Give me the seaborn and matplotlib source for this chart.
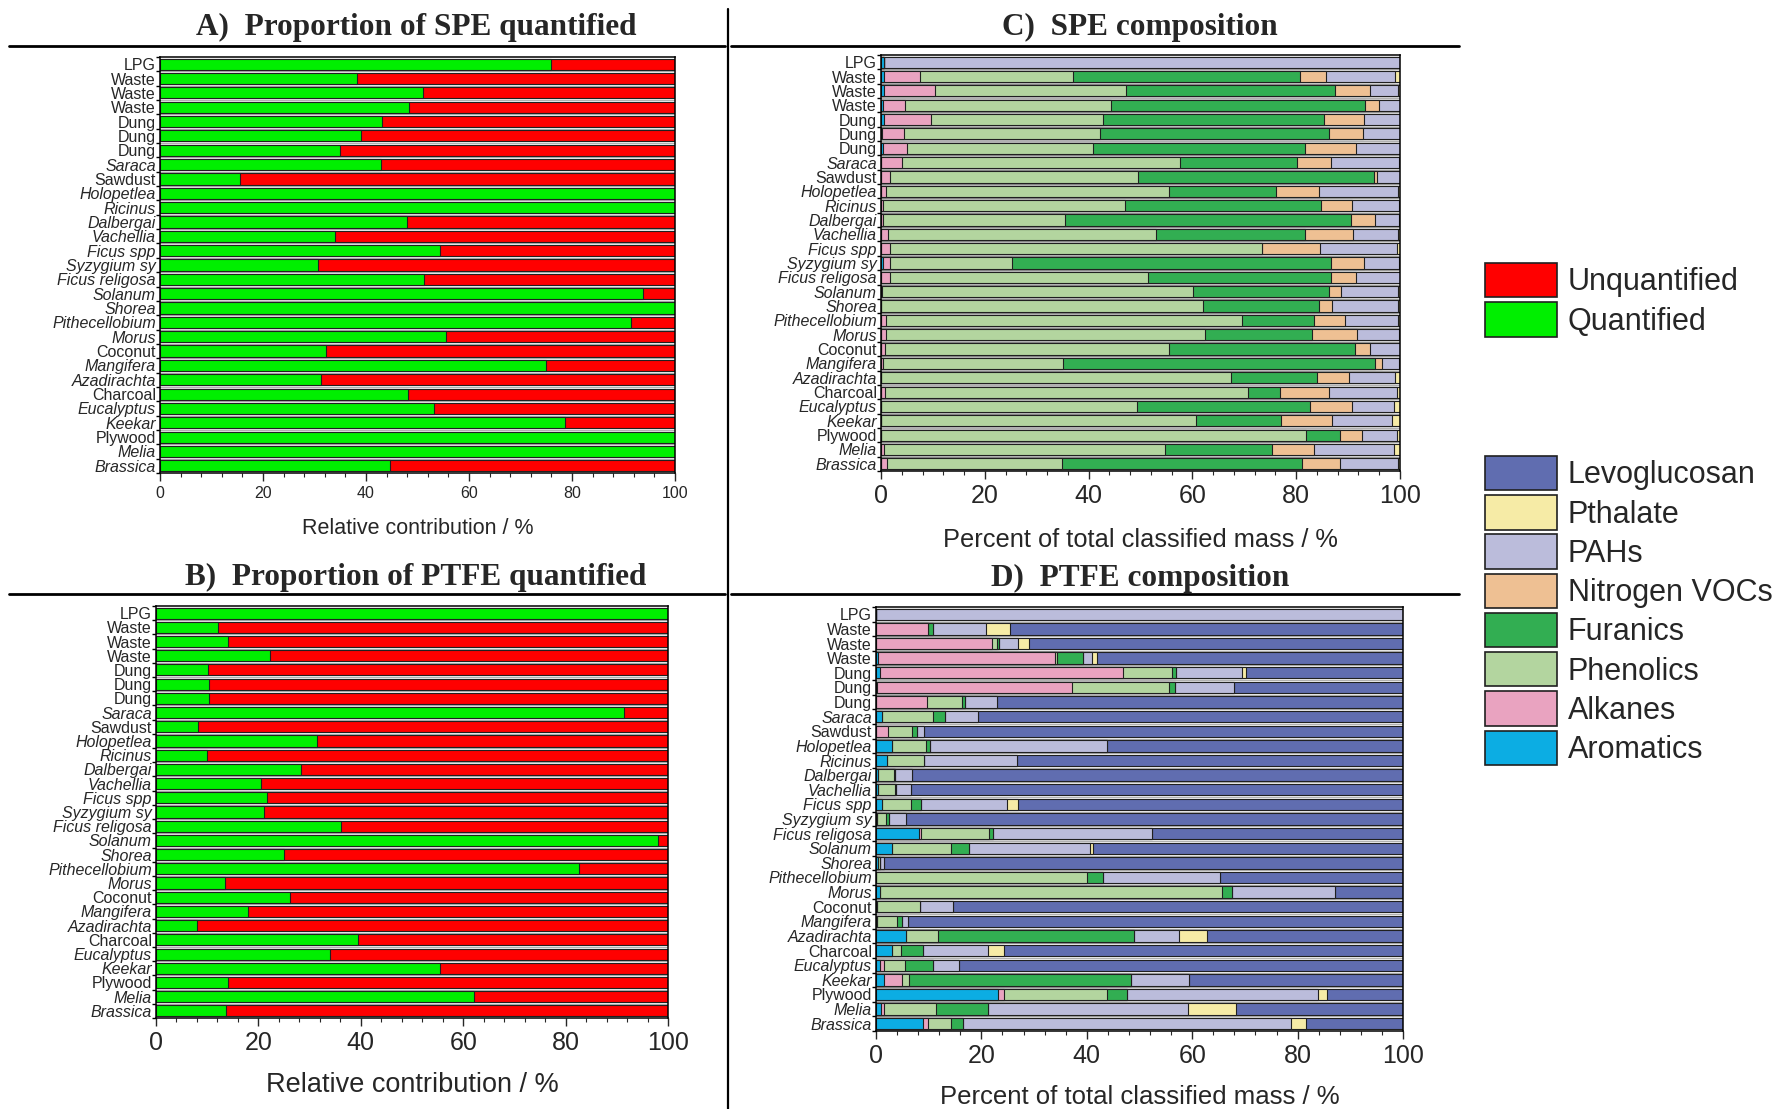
import numpy as np
import pandas as pd
import matplotlib
matplotlib.use("Agg")
import matplotlib.pyplot as plt
from matplotlib.lines import Line2D
from matplotlib.patches import Patch
import seaborn as sns

# ---------------- data ----------------
samples = ["LPG", "Waste", "Waste", "Waste", "Dung", "Dung", "Dung", "Saraca", "Sawdust",
           "Holopetlea", "Ricinus", "Dalbergai", "Vachellia", "Ficus spp", "Syzygium sy",
           "Ficus religosa", "Solanum", "Shorea", "Pithecellobium", "Morus", "Coconut",
           "Mangifera", "Azadirachta", "Charcoal", "Eucalyptus", "Keekar", "Plywood",
           "Melia", "Brassica"]
upright = {"LPG", "Waste", "Dung", "Sawdust", "Coconut", "Charcoal", "Plywood"}

# Panel A / B: quantified percentage (rest is unquantified)
spe_quantified = [75.9, 38.2, 51.0, 48.3, 43.1, 39.0, 35.0, 43.0, 15.5, 100, 100, 47.9, 34.0,
                  54.3, 30.6, 51.3, 93.7, 100, 91.5, 55.6, 32.3, 75.0, 31.3, 48.2, 53.2, 78.6,
                  100, 100, 44.6]
ptfe_quantified = [100, 12.1, 14.1, 22.3, 10.2, 10.4, 10.4, 91.4, 8.3, 31.5, 10.0, 28.4, 20.5,
                   21.7, 21.1, 36.1, 98.1, 25.0, 82.6, 13.5, 26.2, 18.0, 8.0, 39.5, 34.0, 55.5,
                   14.1, 62.1, 13.7]

classes = ["Aromatics", "Alkanes", "Phenolics", "Furanics", "Nitrogen VOCs", "PAHs",
           "Pthalate", "Levoglucosan"]
class_colors = ["#0cade3", "#e9a3c0", "#b3d59f", "#32ae52", "#eec093", "#bbbcdb",
                "#f6eba6", "#606db0"]

# Panel C: SPE composition (% of classified mass)
spe_aromatics = [0.5, 0.6, 0.6, 0.3, 0.6, 0.2, 0.3, 0, 0, 0, 0, 0, 0, 0, 0.3, 0, 0, 0, 0, 0, 0,
                 0, 0, 0, 0, 0, 0, 0, 0]
spe_alkanes = [0, 7.0, 9.9, 4.3, 9.1, 4.2, 4.8, 4.0, 1.7, 1.0, 0.3, 0.3, 1.4, 1.7, 1.4, 1.7, 0.2,
               0, 0.9, 0.9, 0.7, 0.3, 0, 0.8, 0, 0, 0, 0.6, 1.2]
spe_phenolics = [0, 29.4, 36.7, 39.7, 33.1, 37.8, 35.7, 53.7, 47.8, 54.4, 46.7, 35.2, 51.5,
                 71.8, 23.6, 49.7, 60.0, 62.0, 68.7, 61.5, 54.8, 34.8, 67.5, 69.9, 49.4, 60.6,
                 81.9, 54.1, 33.6]
spe_furanics = [0, 43.8, 40.2, 49.0, 42.5, 44.1, 40.8, 22.5, 45.4, 20.7, 37.8, 55.0, 28.8, 0,
                61.4, 35.3, 26.1, 22.3, 13.8, 20.6, 35.9, 60.0, 16.6, 6.1, 33.3, 16.4, 6.6,
                20.6, 46.3]
spe_nitrogen = [0, 4.9, 6.9, 2.7, 7.7, 6.5, 10.0, 6.5, 0.7, 8.3, 6.0, 4.7, 9.3, 11.1, 6.3, 4.9,
                2.4, 2.6, 6.0, 8.8, 2.8, 1.5, 6.1, 9.5, 8.1, 9.9, 4.2, 8.1, 7.3]
spe_pahs = [99.5, 13.3, 5.3, 4.0, 7.0, 7.2, 8.4, 13.1, 4.4, 15.2, 9.0, 4.6, 8.6, 14.8, 6.8, 8.4,
            10.9, 12.7, 10.2, 8.0, 5.8, 3.2, 8.9, 13.1, 8.0, 11.5, 6.7, 15.4, 11.2]
spe_pthalate = [0, 1.0, 0.4, 0, 0, 0, 0, 0.2, 0, 0.4, 0.2, 0.2, 0.4, 0.6, 0.2, 0, 0.4, 0.4,
                0.4, 0.2, 0, 0.2, 0.9, 0.6, 1.2, 1.6, 0.6, 1.2, 0.4]
spe_levoglucosan = [0] * 29

# Panel D: PTFE composition (% of classified mass)
ptfe_aromatics = [0, 0, 0, 0.4, 0.7, 0.2, 0, 1.1, 0, 3.1, 2.1, 0.3, 0.3, 1.2, 0.2, 8.2, 3.0, 0.3,
                  0, 0.8, 0.2, 0.2, 5.7, 3.0, 0.7, 1.6, 23.1, 0.9, 9.0]
ptfe_alkanes = [0, 9.9, 22.0, 33.5, 46.1, 36.9, 9.7, 0, 2.3, 0, 0, 0, 0, 0, 0, 0.4, 0, 0, 0, 0,
                0, 0, 0, 0, 0.9, 3.4, 1.2, 0.7, 0.9]
ptfe_phenolics = [0, 0, 1.0, 0.4, 9.4, 18.5, 6.7, 9.8, 4.6, 6.3, 7.1, 3.2, 3.3, 5.4, 1.7, 12.9,
                  11.2, 0.4, 40.1, 64.9, 8.1, 3.7, 6.0, 1.7, 3.9, 1.3, 19.6, 9.8, 4.3]
ptfe_furanics = [0, 0.9, 0.3, 4.9, 0.8, 1.2, 0.5, 2.1, 0.8, 0.8, 0, 0.2, 0.2, 2.0, 0.5, 0.7, 3.4,
                 0, 2.9, 1.8, 0, 1.1, 37.2, 4.3, 5.4, 42.1, 3.8, 9.9, 2.3]
ptfe_nitrogen = [0] * 29
ptfe_pahs = [100, 10.1, 3.6, 1.7, 12.4, 11.2, 6.1, 6.3, 1.4, 33.7, 17.6, 3.1, 2.9, 16.3, 3.3,
             30.1, 23.0, 0.9, 22.2, 19.6, 6.4, 1.0, 8.6, 12.3, 4.9, 11.0, 36.2, 37.9, 62.2]
ptfe_pthalate = [0, 4.6, 2.1, 1.1, 0.9, 0, 0, 0, 0, 0, 0, 0, 0, 2.0, 0, 0, 0.5, 0, 0, 0, 0, 0,
                 5.3, 2.9, 0, 0, 1.6, 9.1, 2.8]
ptfe_levoglucosan = [0, 74.5, 71.0, 58.0, 29.7, 32.0, 77.0, 80.7, 90.9, 56.1, 73.2, 93.2, 93.3,
                     73.1, 94.3, 47.7, 58.9, 98.4, 34.8, 12.9, 85.3, 94.0, 37.2, 75.8, 84.2,
                     40.6, 14.5, 31.7, 18.5]

quant_labels = ["Unquantified", "Quantified"]
quant_colors = ["#ff0000", "#00ef00"]

# ---------------- style ----------------
sns.set_style("ticks")
plt.rcParams["font.family"] = ["Liberation Sans", "DejaVu Sans"]

W, H = 1787, 1109
fig = plt.figure(figsize=(W / 100, H / 100), dpi=100)

ids = [f"r{i:02d}" for i in range(len(samples))]
EDGE = "#202020"


def fig_rect(x0, y0, x1, y1):
    return [x0 / W, 1 - y1 / H, (x1 - x0) / W, (y1 - y0) / H]


def stacked(ax, comps, colors):
    cum = np.cumsum(np.array(comps, dtype=float), axis=0)
    for i in range(len(comps) - 1, -1, -1):
        df = pd.DataFrame({"value": cum[i], "sample": ids})
        sns.barplot(data=df, x="value", y="sample", orient="h", order=ids,
                    color=colors[i], saturation=1, edgecolor=EDGE, linewidth=0.8,
                    width=0.78, ax=ax, errorbar=None)


def style_axes(ax, tick_fs, xlabel, xlabel_fs, labelpad):
    ax.set_xlim(0, 100)
    ax.set_ylim(len(ids) - 0.5, -0.5)
    ax.set_yticks(range(len(ids)))
    ax.set_yticklabels(samples, fontsize=11.5)
    for lab, name in zip(ax.get_yticklabels(), samples):
        lab.set_fontstyle("normal" if name in upright else "italic")
    ax.set_yticks(np.arange(-0.5, len(ids), 1.0), minor=True)
    ax.tick_params(axis="y", which="major", length=0, pad=3)
    ax.tick_params(axis="y", which="minor", length=3, width=1, color="black")
    ax.set_xticks(np.arange(0, 101, 20))
    ax.set_xticks(np.arange(0, 101, 4), minor=True)
    ax.tick_params(axis="x", which="major", labelsize=tick_fs, length=6, width=1)
    ax.tick_params(axis="x", which="minor", length=3, width=0.8)
    for b in np.arange(0.5, len(ids) - 1, 1.0):
        ax.axhline(b, color="#b0b0b0", lw=1.0, zorder=0)
    for s in ax.spines.values():
        s.set_visible(True)
        s.set_linewidth(1.1)
        s.set_color("black")
    ax.set_ylabel("")
    ax.set_xlabel(xlabel, fontsize=xlabel_fs, labelpad=labelpad)


# Panel A
axA = fig.add_axes(fig_rect(160, 57, 675, 473))
stacked(axA, [spe_quantified, [100 - v for v in spe_quantified]], quant_colors[::-1])
style_axes(axA, 11.5, "Relative contribution / %", 15.5, 12)

# Panel B
axB = fig.add_axes(fig_rect(156, 606, 668, 1018))
stacked(axB, [ptfe_quantified, [100 - v for v in ptfe_quantified]], quant_colors[::-1])
style_axes(axB, 18, "Relative contribution / %", 19.5, 12)

# Panel C
axC = fig.add_axes(fig_rect(881, 55, 1400, 471))
stacked(axC, [spe_aromatics, spe_alkanes, spe_phenolics, spe_furanics, spe_nitrogen,
              spe_pahs, spe_pthalate, spe_levoglucosan], class_colors)
style_axes(axC, 18, "Percent of total classified mass / %", 18.3, 14)

# Panel D
axD = fig.add_axes(fig_rect(876, 607, 1403, 1031))
stacked(axD, [ptfe_aromatics, ptfe_alkanes, ptfe_phenolics, ptfe_furanics, ptfe_nitrogen,
              ptfe_pahs, ptfe_pthalate, ptfe_levoglucosan], class_colors)
style_axes(axD, 18, "Percent of total classified mass / %", 18.5, 12)

# Titles
title_kw = dict(fontsize=22.5, fontweight="bold", family=["Liberation Serif", "DejaVu Serif"],
                ha="center", va="center")
fig.text(416 / W, 1 - 27 / H, "A)  Proportion of SPE quantified", **title_kw)
fig.text(416 / W, 1 - 577 / H, "B)  Proportion of PTFE quantified", **title_kw)
fig.text(1140 / W, 1 - 27 / H, "C)  SPE composition", **title_kw)
fig.text(1140 / W, 1 - 578 / H, "D)  PTFE composition", **title_kw)

# Divider lines
for yy in (46, 594):
    fig.add_artist(Line2D([9 / W, 725 / W], [1 - yy / H] * 2, transform=fig.transFigure,
                          color="black", lw=2))
    fig.add_artist(Line2D([731 / W, 1459 / W], [1 - yy / H] * 2, transform=fig.transFigure,
                          color="black", lw=2))
fig.add_artist(Line2D([728 / W] * 2, [1 - 9 / H, 0], transform=fig.transFigure,
                      color="black", lw=1.6))

# Legends
leg_kw = dict(loc="upper left", frameon=False, fontsize=22, handlelength=2.35,
              handleheight=1.35, labelspacing=0.16, handletextpad=0.35, borderpad=0,
              borderaxespad=0)
h1 = [Patch(facecolor=c, edgecolor=EDGE, lw=1.2, label=l) for l, c in zip(quant_labels, quant_colors)]
fig.legend(handles=h1, bbox_to_anchor=(1485 / W, 1 - 263 / H), **leg_kw)
h2 = [Patch(facecolor=c, edgecolor=EDGE, lw=1.2, label=l)
      for l, c in zip(classes[::-1], class_colors[::-1])]
fig.legend(handles=h2, bbox_to_anchor=(1485 / W, 1 - 456 / H), **leg_kw)

fig.savefig("out.png", dpi=100)
